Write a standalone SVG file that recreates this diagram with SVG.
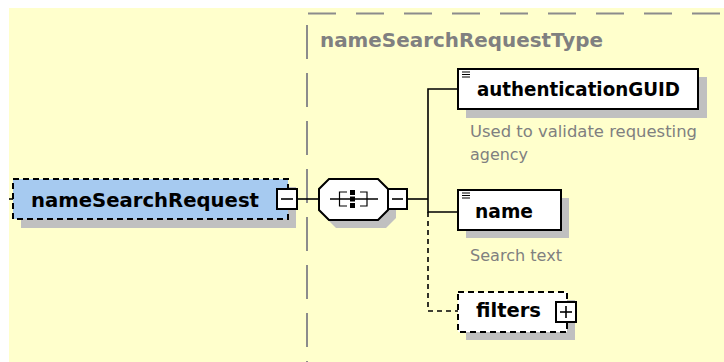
<svg xmlns="http://www.w3.org/2000/svg" width="724" height="362" viewBox="0 0 724 362">
<defs>
<style>
.bg{fill:#FFFFCC}
.shadow{fill:#C0C0C0}
.box{fill:#FFFFFF;stroke:#000;stroke-width:2}
.dbox{stroke:#000;stroke-width:2;stroke-dasharray:6 4}
.lbl{font-family:"DejaVu Sans",Verdana,sans-serif;font-weight:bold;font-size:19px;fill:#000}
.ttl{font-family:"DejaVu Sans",Verdana,sans-serif;font-weight:bold;font-size:19px;fill:#808080}
.desc{font-family:"DejaVu Sans",Verdana,sans-serif;font-size:15px;fill:#808080}
.ln{stroke:#000;stroke-width:1.6;fill:none}
.dln{stroke:#000;stroke-width:1.6;fill:none;stroke-dasharray:5 4}
.frame{stroke:#8C8C8C;stroke-width:2;fill:none}
.icon{stroke:#000;stroke-width:1.2;fill:none}
</style>
</defs>
<rect x="9" y="8" width="715" height="354" class="bg"/>
<g id="typeFrame">
<line x1="308" y1="13.5" x2="724" y2="13.5" class="frame" stroke-dasharray="28 20"/>
<line x1="307" y1="25" x2="307" y2="362" class="frame" stroke-dasharray="34 14"/>
<text x="320" y="47" class="ttl" textLength="283" lengthAdjust="spacingAndGlyphs">nameSearchRequestType</text>
</g>
<g id="connectors">
<line x1="9" y1="199" x2="14" y2="199" class="ln"/>
<line x1="297" y1="199" x2="319" y2="199" class="ln"/>
<line x1="407" y1="199" x2="428" y2="199" class="ln"/>
<polyline points="458,89 428,89 428,212 458,212" class="ln"/>
<polyline points="428,212 428,311 458,311" class="dln"/>
</g>
<g id="nameSearchRequest">
<rect x="21" y="187" width="275" height="41" class="shadow"/>
<rect x="13" y="179" width="275" height="40" fill="#A6CAF0" class="dbox"/>
<text x="31" y="207" class="lbl" textLength="228" lengthAdjust="spacingAndGlyphs">nameSearchRequest</text>
<rect x="277" y="189" width="20" height="20" class="box" stroke-width="1.6"/>
<line x1="281" y1="199" x2="293" y2="199" class="ln"/>
</g>
<g id="sequence">
<polygon points="336,187 386,187 396,197 396,218 386,228 336,228 326,218 326,197" class="shadow"/>
<polygon points="329,179 378,179 388,189 388,210 378,220 329,220 319,210 319,189" class="box"/>
<line x1="330" y1="199" x2="378" y2="199" class="ln"/>
<polyline points="347,192 339.5,192 339.5,206 347,206" class="icon" stroke-width="1.6"/>
<polyline points="360,192 367,192 367,206 360,206" class="icon" stroke-width="1.6"/>
<rect x="350" y="190" width="5" height="5" fill="#000"/>
<rect x="350" y="196.5" width="5" height="5" fill="#000"/>
<rect x="350" y="203" width="5" height="5" fill="#000"/>
<rect x="388" y="189" width="19" height="20" class="box" stroke-width="1.6"/>
<line x1="392" y1="199" x2="403" y2="199" class="ln"/>
</g>
<g id="authenticationGUID">
<rect x="466" y="77" width="241" height="41" class="shadow"/>
<rect x="458" y="69" width="240" height="40" class="box"/>
<path d="M462 72h8M462 74.5h8M462 77h8" class="icon"/>
<text x="477" y="96" class="lbl" textLength="203" lengthAdjust="spacingAndGlyphs">authenticationGUID</text>
<text x="470" y="137" class="desc" textLength="227" lengthAdjust="spacingAndGlyphs">Used to validate requesting</text>
<text x="470" y="160" class="desc" textLength="58" lengthAdjust="spacingAndGlyphs">agency</text>
</g>
<g id="name">
<rect x="466" y="198" width="103" height="40" class="shadow"/>
<rect x="458" y="190" width="103" height="40" class="box"/>
<path d="M462 193h8M462 195.5h8M462 198h8" class="icon"/>
<text x="475" y="218" class="lbl" textLength="58" lengthAdjust="spacingAndGlyphs">name</text>
<text x="470" y="261" class="desc" textLength="92" lengthAdjust="spacingAndGlyphs">Search text</text>
</g>
<g id="filters">
<rect x="466" y="300" width="109" height="40" class="shadow"/>
<rect x="458" y="292" width="109" height="40" fill="#FFFFFF" class="dbox"/>
<text x="476" y="317" class="lbl" textLength="65" lengthAdjust="spacingAndGlyphs">filters</text>
<rect x="556" y="302" width="20" height="20" class="box" stroke-width="1.6"/>
<line x1="560" y1="312" x2="572" y2="312" class="ln"/>
<line x1="566" y1="306" x2="566" y2="318" class="ln"/>
</g>
</svg>
